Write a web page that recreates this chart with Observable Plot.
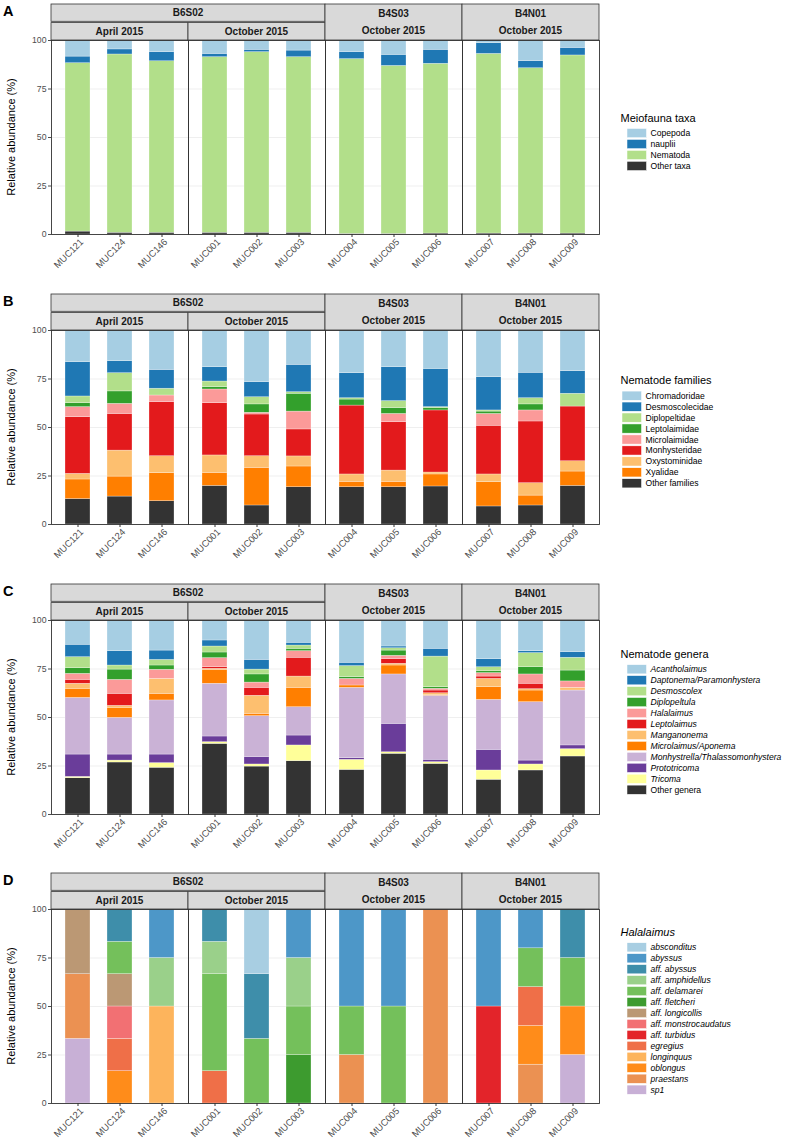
<!DOCTYPE html>
<html>
<head>
<meta charset="utf-8">
<script src="https://cdn.jsdelivr.net/npm/d3@7"></script>
<script src="https://cdn.jsdelivr.net/npm/@observablehq/plot@0.6"></script>
<style>
html,body{margin:0;padding:0;background:#fff;}
#root{position:relative;width:791px;height:1140px;overflow:hidden;font-family:"Liberation Sans",Arial,Helvetica,sans-serif;}
.panel{position:absolute;left:0;}
.panel svg{display:block;}
</style>
</head>
<body>
<div id="root"></div>
<script>
// ---------- shared sample layout ----------
const samples = ["MUC121","MUC124","MUC146","MUC001","MUC002","MUC003","MUC004","MUC005","MUC006","MUC007","MUC008","MUC009"];
const sites   = ["B6S02","B6S02","B6S02","B6S02","B6S02","B6S02","B4S03","B4S03","B4S03","B4N01","B4N01","B4N01"];
const dates   = ["April 2015","April 2015","April 2015","October 2015","October 2015","October 2015","October 2015","October 2015","October 2015","October 2015","October 2015","October 2015"];
const yTicks  = [0, 25, 50, 75, 100];
const yTitle  = "Relative abundance (%)";

// ---------- panel A: meiofauna taxa ----------
const taxa = ["Copepoda","nauplii","Nematoda","Other taxa"];
const taxaColors = ["#A6CEE3","#1F78B4","#B2DF8A","#333333"];
const taxaValues = [
  [8.3, 4.6, 6.0, 6.9, 4.8, 5.2, 6.0, 7.4, 4.8, 1.4, 10.7, 3.8],
  [3.4, 2.6, 4.7, 1.7, 1.2, 3.4, 3.6, 5.7, 7.2, 5.5, 3.6, 3.9],
  [86.8, 91.9, 88.4, 90.5, 93.1, 90.5, 90.1, 86.6, 87.5, 92.6, 85.2, 91.8],
  [1.5, 0.9, 0.9, 0.9, 0.9, 0.9, 0.3, 0.3, 0.5, 0.5, 0.5, 0.5]
];

// ---------- panel B: nematode families ----------
const families = ["Chromadoridae","Desmoscolecidae","Diplopeltidae","Leptolaimidae","Microlaimidae","Monhysteridae","Oxystominidae","Xyalidae","Other families"];
const familyColors = ["#A6CEE3","#1F78B4","#B2DF8A","#33A02C","#FB9A99","#E31A1C","#FDBF6F","#FF7F00","#333333"];
const familyValues = [
  [16.3, 15.8, 20.3, 18.9, 26.6, 17.7, 22.0, 18.9, 19.8, 24.1, 21.8, 21.0],
  [17.7, 6.2, 9.7, 7.4, 7.8, 14.1, 12.9, 17.5, 19.7, 17.1, 13.1, 11.6],
  [3.5, 9.4, 3.5, 2.9, 3.7, 0.8, 0.7, 3.6, 0.5, 0.6, 3.2, 6.6],
  [2.0, 6.4, 0, 1.2, 4.3, 9.2, 3.1, 3.0, 1.2, 1.2, 3.1, 0],
  [5.2, 5.2, 3.4, 7.1, 0.9, 9.2, 0, 4.3, 0, 6.1, 5.7, 0],
  [29.2, 18.9, 27.9, 26.9, 21.5, 13.9, 35.5, 24.9, 32.0, 25.1, 31.8, 28.2],
  [2.9, 13.4, 8.7, 9.0, 6.0, 5.2, 3.8, 5.8, 1.0, 4.0, 6.4, 5.3],
  [10.1, 10.3, 14.5, 6.7, 19.4, 10.7, 2.8, 2.8, 6.2, 12.5, 5.1, 7.4],
  [13.1, 14.4, 12.0, 19.9, 9.8, 19.2, 19.2, 19.2, 19.6, 9.3, 9.8, 19.9]
];

// ---------- panel C: nematode genera ----------
const genera = ["Acantholaimus","Daptonema/Paramonhystera","Desmoscolex","Diplopeltula","Halalaimus","Leptolaimus","Manganonema","Microlaimus/Aponema","Monhystrella/Thalassomonhystera","Prototricoma","Tricoma","Other genera"];
const generaColors = ["#A6CEE3","#1F78B4","#B2DF8A","#33A02C","#FB9A99","#E31A1C","#FDBF6F","#FF7F00","#CAB2D6","#6A3D9A","#FFFF99","#333333"];
const generaValues = [
  [12.5, 15.8, 15.5, 10.3, 20.3, 11.5, 21.8, 13.4, 14.6, 19.9, 15.8, 16.3],
  [6.4, 7.4, 4.8, 3.1, 5.0, 1.4, 1.7, 0.9, 4.0, 4.2, 1.0, 2.9],
  [5.7, 2.1, 2.9, 3.1, 2.5, 1.7, 5.7, 1.2, 15.8, 2.0, 7.3, 6.6],
  [2.9, 5.3, 2.2, 2.9, 4.2, 1.2, 0.9, 2.7, 0.8, 1.0, 3.7, 5.6],
  [3.1, 7.2, 4.7, 4.7, 2.7, 3.4, 3.4, 1.7, 0.9, 1.8, 4.8, 3.3],
  [2.0, 6.2, 0, 0.8, 4.1, 9.7, 0, 2.4, 1.4, 1.2, 2.8, 0],
  [2.6, 1.0, 7.7, 0.5, 9.3, 5.8, 0, 0.9, 1.0, 4.3, 0.7, 1.4],
  [4.7, 5.2, 3.4, 7.2, 1.2, 10.0, 1.2, 4.6, 0.3, 6.5, 6.0, 0],
  [29.2, 18.9, 27.9, 27.2, 21.1, 14.6, 36.3, 25.5, 33.0, 25.8, 30.1, 28.3],
  [11.5, 3.1, 4.4, 2.9, 3.8, 5.1, 0.8, 14.6, 1.2, 10.6, 2.0, 1.9],
  [0.7, 1.0, 2.4, 0.9, 1.1, 8.1, 5.2, 0.8, 0.9, 4.8, 3.1, 3.8],
  [18.7, 26.8, 24.1, 36.4, 24.7, 27.5, 23.0, 31.3, 26.1, 17.9, 22.7, 29.9]
];

// ---------- panel D: Halalaimus species ----------
const species = ["absconditus","abyssus","aff. abyssus","aff. amphidellus","aff. delamarei","aff. fletcheri","aff. longicollis","aff. monstrocaudatus","aff. turbidus","egregius","longinquus","oblongus","praestans","sp1"];
const speciesColors = ["#A8CEE2","#4D97C8","#3E8EAA","#9AD08A","#74C05B","#3D9B2F","#BB9874","#F27073","#E3242A","#EF6F48","#FDB45C","#FF8C1A","#EB9152","#C8B0D6"];
const speciesValues = [
  [0, 0, 0, 0, 33.33, 0, 0, 0, 0, 0, 0, 0],
  [0, 0, 25, 0, 0, 25, 50, 50, 0, 50, 20, 0],
  [0, 16.67, 0, 16.67, 33.33, 0, 0, 0, 0, 0, 0, 25],
  [0, 0, 25, 16.67, 0, 25, 0, 0, 0, 0, 0, 0],
  [0, 16.67, 0, 50, 33.33, 25, 25, 50, 0, 0, 20, 25],
  [0, 0, 0, 0, 0, 25, 0, 0, 0, 0, 0, 0],
  [33.33, 16.67, 0, 0, 0, 0, 0, 0, 0, 0, 0, 0],
  [0, 16.67, 0, 0, 0, 0, 0, 0, 0, 0, 0, 0],
  [0, 0, 0, 0, 0, 0, 0, 0, 0, 50, 0, 0],
  [0, 16.67, 0, 16.67, 0, 0, 0, 0, 0, 0, 20, 0],
  [0, 0, 50, 0, 0, 0, 0, 0, 0, 0, 0, 0],
  [0, 16.67, 0, 0, 0, 0, 0, 0, 0, 0, 20, 25],
  [33.33, 0, 0, 0, 0, 0, 25, 0, 100, 0, 20, 0],
  [33.33, 0, 0, 0, 0, 0, 0, 0, 0, 0, 0, 25]
];

// ---------- helpers ----------
const facetOf = samples.map((s, i) => sites[i] + " | " + dates[i]);
const facetKeys = [...new Set(facetOf)];
const posOf = samples.map((s, i) => String(i - facetOf.indexOf(facetOf[i]) + 1));
const FONT = "Liberation Sans, Arial, Helvetica, sans-serif";
const panelTops = [0, 290, 580, 869];

function drawPanel(k, letter, cats, colors, values, legendTitle, titleItalic, italicFn, swatchX) {
  const rows = [];
  // bottom of stack = last legend entry
  for (let c = cats.length - 1; c >= 0; c--) {
    samples.forEach((s, i) => rows.push({facet: facetOf[i], pos: posOf[i], sample: s, cat: cats[c], value: values[c][i]}));
  }
  const labelRows = samples.map((s, i) => ({facet: facetOf[i], pos: posOf[i], sample: s}));

  const plot = Plot.plot({
    width: 791, height: 290,
    marginTop: 40, marginBottom: 56, marginLeft: 49, marginRight: 191,
    style: {fontFamily: FONT, background: "white", overflow: "visible"},
    fx: {domain: facetKeys, padding: 0, axis: null},
    x: {domain: ["1","2","3"], paddingInner: 0.4, paddingOuter: 0.3, axis: null},
    y: {domain: [0, 100], axis: null},
    color: {domain: cats, range: colors},
    marks: [
      Plot.gridY(yTicks, {stroke: "#ebebeb", strokeOpacity: 1, strokeWidth: 0.8}),
      Plot.barY(rows, {fx: "facet", x: "pos", y: "value", fill: "cat", stroke: "white", strokeWidth: 0.5, strokeOpacity: 0.55}),
      Plot.frame({stroke: "#333", strokeWidth: 0.9}),
      Plot.axisY(yTicks, {tickSize: 3, tickPadding: 2, fontSize: 8.7, color: "#4d4d4d", label: null}),
      Plot.axisX({tickSize: 3, tickFormat: () => "", label: null, color: "#333"}),
      Plot.text(labelRows, {fx: "facet", x: "pos", frameAnchor: "bottom", text: "sample", rotate: -45, textAnchor: "end", dx: 6, dy: 8, fontSize: 9.4, fill: "#4d4d4d"})
    ]
  });

  const svg = d3.select(plot);
  const fx = plot.scale("fx");
  const bw = fx.bandwidth;
  const left = key => fx.apply(key);

  // facet strips
  const g = svg.append("g").attr("font-family", FONT).attr("font-weight", "bold").attr("font-size", 10).attr("fill", "#1a1a1a").attr("text-anchor", "middle");
  const siteList = [...new Set(sites)];
  siteList.forEach(site => {
    const fk = facetKeys.filter(f => f.startsWith(site + " |"));
    const x0 = left(fk[0]), x1 = left(fk[fk.length - 1]) + bw;
    if (fk.length > 1) {
      g.append("rect").attr("x", x0).attr("y", 4).attr("width", x1 - x0).attr("height", 17.3)
        .attr("fill", "#d9d9d9").attr("stroke", "#333").attr("stroke-width", 0.8);
      g.append("text").attr("x", (x0 + x1) / 2).attr("y", 12.8).attr("dominant-baseline", "central").text(site);
      fk.forEach(f => {
        const xl = left(f);
        g.append("rect").attr("x", xl).attr("y", 22.6).attr("width", bw).attr("height", 17.4)
          .attr("fill", "#d9d9d9").attr("stroke", "#333").attr("stroke-width", 0.8);
        g.append("text").attr("x", xl + bw / 2).attr("y", 31.4).attr("dominant-baseline", "central").text(f.split(" | ")[1]);
      });
    } else {
      g.append("rect").attr("x", x0).attr("y", 4).attr("width", x1 - x0).attr("height", 36)
        .attr("fill", "#d9d9d9").attr("stroke", "#333").attr("stroke-width", 0.8);
      g.append("text").attr("x", (x0 + x1) / 2).attr("y", 13).attr("dominant-baseline", "central").text(site);
      g.append("text").attr("x", (x0 + x1) / 2).attr("y", 30.2).attr("dominant-baseline", "central").text(fk[0].split(" | ")[1]);
    }
  });

  // y title
  svg.append("text").attr("transform", "translate(11,137) rotate(-90)").attr("text-anchor", "middle")
    .attr("dominant-baseline", "central").attr("font-family", FONT).attr("font-size", 11).attr("fill", "#000").text(yTitle);
  // panel letter
  svg.append("text").attr("x", 3).attr("y", 15.5).attr("text-anchor", "start").attr("font-family", FONT).attr("font-size", 14.5).attr("font-weight", "bold").attr("fill", "#000").text(letter);

  // legend
  const n = cats.length, step = 10.95;
  const top = 141.5 - (16 + n * step) / 2;
  const lg = svg.append("g").attr("font-family", FONT).attr("fill", "#000").attr("text-anchor", "start");
  lg.append("text").attr("x", 620.5).attr("y", top + 6).attr("dominant-baseline", "central").attr("font-size", 11)
    .attr("font-style", titleItalic ? "italic" : "normal").text(legendTitle);
  const color = plot.scale("color");
  cats.forEach((c, j) => {
    const cy = top + 16 + step * (j + 0.5);
    lg.append("rect").attr("x", swatchX).attr("y", cy - 4.6).attr("width", 19.5).attr("height", 9.2)
      .attr("fill", color.apply(c)).attr("stroke", "white").attr("stroke-width", 0.5);
    lg.append("text").attr("x", swatchX + 23.5).attr("y", cy).attr("dominant-baseline", "central").attr("font-size", 8.6)
      .attr("font-style", italicFn(c) ? "italic" : "normal").text(c);
  });

  const div = document.createElement("div");
  div.className = "panel";
  div.style.top = panelTops[k] + "px";
  div.appendChild(plot);
  document.getElementById("root").appendChild(div);
}

drawPanel(0, "A", taxa, taxaColors, taxaValues, "Meiofauna taxa", false, () => false, 627);
drawPanel(1, "B", families, familyColors, familyValues, "Nematode families", false, () => false, 622);
drawPanel(2, "C", genera, generaColors, generaValues, "Nematode genera", false, c => c !== "Other genera", 627);
drawPanel(3, "D", species, speciesColors, speciesValues, "Halalaimus", true, () => true, 627);
</script>
</body>
</html>
